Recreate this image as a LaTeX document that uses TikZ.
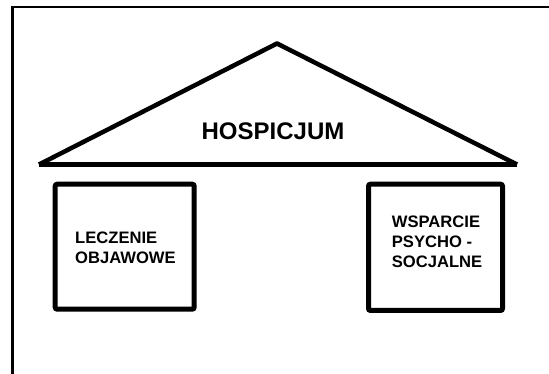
\documentclass[tikz,border=0pt]{standalone}
\usepackage{fontspec}
\setmainfont{Liberation Sans}
\begin{document}
\begin{tikzpicture}[x=1pt,y=1pt,
  frame/.style={line width=2.5pt},
  roof/.style={line width=4.5pt},
  pillar/.style={draw, line width=5pt, rounded corners=2pt, inner sep=0pt},
  lbl/.style={font=\bfseries\fontsize{16.6}{20}\selectfont, align=left, inner sep=0pt, anchor=north west},
  ttl/.style={font=\bfseries\fontsize{24}{28}\selectfont, anchor=base, inner sep=0pt}]
\useasboundingbox (0,0) rectangle (549,374);
% frame
\coordinate (fbl) at (12.5,0);
\coordinate (ftl) at (12.5,367);
\coordinate (ftr) at (549,367);
\draw[frame] (fbl) -- (ftl) -- (ftr);
% roof
\coordinate (apex) at (277,330.5);
\coordinate (rl) at (39,209.5);
\coordinate (rr) at (517,209.5);
\draw[roof, line join=round] (rl) -- (apex) -- (rr);
\draw[roof, line width=5pt] (rl) -- (rr);
\node[ttl] (title) at (273,234) {HOSPICJUM};
% pillars
\node[pillar, minimum width=139pt, minimum height=125pt] (left) at (124.7,127.3) {};
\node[pillar, minimum width=134pt, minimum height=126.3pt] (right) at (435.5,126.65) {};
\node[lbl] (lefttext) at (75,142.3) {LECZENIE\\OBJAWOWE};
\node[lbl] (righttext) at (391.7,158.3) {WSPARCIE\\PSYCHO -\\SOCJALNE};
\end{tikzpicture}
\end{document}
